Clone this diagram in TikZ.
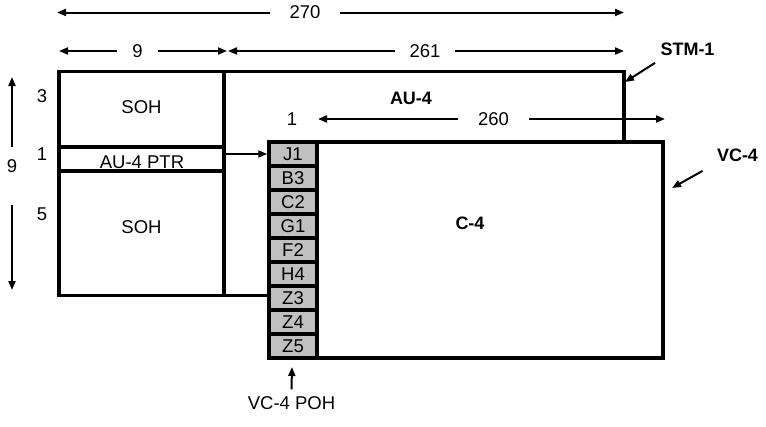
\documentclass[tikz,border=0pt]{standalone}
\usepackage{fontspec}
\setmainfont{Liberation Sans}
\usetikzlibrary{arrows.meta}
\definecolor{pohgray}{RGB}{192,192,192}

\begin{document}
\begin{tikzpicture}[x=1pt,y=-1pt,font=\fontsize{18.5}{22}\selectfont,
    box/.style={draw,line width=3.5pt,inner sep=0pt},
    cell/.style={box,fill=pohgray,minimum width=48pt,minimum height=24pt},
    gap/.style={inner sep=0pt,minimum width=#1},
    bold/.style={font=\fontsize{18}{22}\selectfont\bfseries},
    arr/.style={line width=2pt,-{Triangle[length=9pt,width=7pt]}}]
  \useasboundingbox (0,0) rectangle (766,426);

  % STM-1 frame
  \node[box,minimum width=400pt,minimum height=224pt] (au4) at (424,183.5) {};
  \node[box,minimum width=165pt,minimum height=75.5pt] (soh1) at (141.5,109.25) {};
  \node[box,minimum width=165pt,minimum height=24pt] (ptr) at (141.5,159) {};
  \node[box,minimum width=165pt,minimum height=124.5pt] (soh2) at (141.5,233.25) {};

  % VC-4 with its POH column
  \node[box,fill=white,minimum width=394pt,minimum height=216pt] (vc4) at (466,250) {};
  \foreach \name [count=\i from 0] in {J1,B3,C2,G1,F2,H4,Z3,Z4,Z5}
    \node[cell] (\name) at (293,154+24*\i) {\name};

  % texts
  \node (sohtop) at (141.5,107.5) {SOH};
  \node (sohbot) at (141.5,227) {SOH};
  \node (ptrlbl) at (142,162.5) {AU-4 PTR};
  \node[bold] (au4lbl) at (411,98) {AU-4};
  \node[bold] (c4lbl) at (470,223) {C-4};
  \node[bold] (stmlbl) at (687.5,49) {STM-1};
  \node[bold] (vc4lbl) at (737.5,155) {VC-4};
  \node (pohlbl) at (291.5,403.5) {VC-4 POH};
  \node (r3) at (42,96) {3};
  \node (r1) at (42,154) {1};
  \node (r5) at (42,214) {5};
  \node (c1) at (292,119) {1};

  % dimension labels
  \node[gap=70pt] (n270) at (305,12.5) {270};
  \node[gap=41pt] (n9) at (137.5,51) {9};
  \node[gap=60pt] (n261) at (425,51) {261};
  \node[gap=71pt] (n260) at (493.5,119) {260};
  \node (n9v) at (12,166) {9};

  \coordinate (a270) at (57,12.5);   \coordinate (b270) at (624,12.5);
  \coordinate (a9) at (59,51);       \coordinate (b9) at (227,51);
  \coordinate (a261) at (228,51);    \coordinate (b261) at (624,51);
  \coordinate (a260) at (318,119);   \coordinate (b260) at (665,119);
  \coordinate (u9) at (12,147);      \coordinate (t9) at (12,77);
  \coordinate (l9) at (12,205);      \coordinate (d9) at (12,290);
  \coordinate (stmtip) at (625,82);  \coordinate (vc4tip) at (672,188);
  \coordinate (pohtip) at (292,367);

  % arrows
  \foreach \n in {270,9,261,260} {
    \draw[arr] (n\n.west) -- (a\n);
    \draw[arr] (n\n.east) -- (b\n);
  }
  \draw[arr] (u9) -- (t9);
  \draw[arr] (l9) -- (d9);
  \draw[arr] (J1.west -| ptr.east) -- (J1.west);
  \draw[arr] (stmlbl.south west) ++(-2,4) -- (stmtip);
  \draw[arr] (vc4lbl.south west) ++(-11,6) -- (vc4tip);
  \draw[arr] (pohlbl.north) ++(0,-4) -- (pohtip);
\end{tikzpicture}
\end{document}
